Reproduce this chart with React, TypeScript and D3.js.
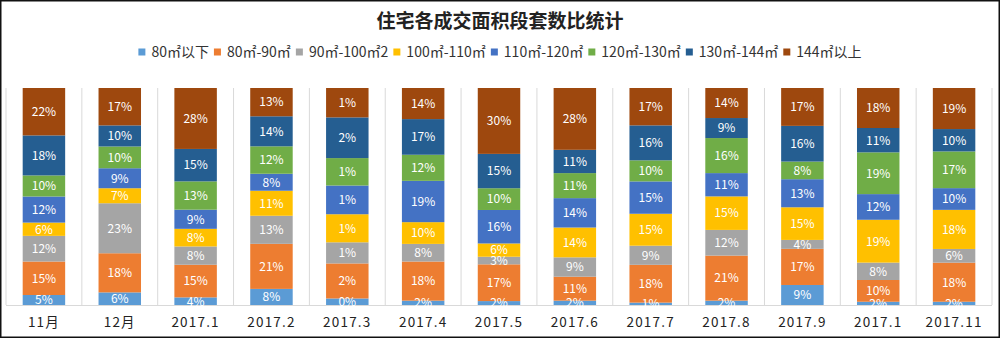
import React, { useEffect, useRef } from "react";
import * as d3 from "d3";

const categories = ["11月", "12月", "2017.1", "2017.2", "2017.3", "2017.4", "2017.5", "2017.6", "2017.7", "2017.8", "2017.9", "2017.1", "2017.11"];
const seriesNames = ["80㎡以下", "80㎡-90㎡", "90㎡-100㎡2", "100㎡-110㎡", "110㎡-120㎡", "120㎡-130㎡", "130㎡-144㎡", "144㎡以上"];
const seriesColors = ["#5B9BD5", "#ED7D31", "#A5A5A5", "#FFC000", "#4472C4", "#70AD47", "#255E91", "#9E480E"];

// segment shares (bottom to top), per series across categories
const s80 = [4.6, 5.8, 3.5, 7.4, 3, 2, 1.8, 2, 1.1, 2, 9.2, 1.5, 1.5];
const s80to90 = [15.4, 18, 15, 20.7, 16.1, 18, 16.9, 11, 17.4, 20.7, 16.6, 10, 18];
const s90to100 = [11.8, 23, 8.4, 12.9, 9.7, 8.1, 3.5, 8.9, 8.8, 11.8, 4.1, 8, 6.3];
const s100to110 = [6.1, 6.9, 8.1, 11.5, 12.9, 10, 6.1, 13.7, 14.7, 15.4, 15, 19.7, 18];
const s110to120 = [12, 9.2, 8.8, 7.8, 13.2, 19, 15.4, 13.5, 14.9, 10.7, 12.9, 11.8, 10];
const s120to130 = [9.7, 10, 13, 12.6, 12.6, 12, 10, 11.5, 9.7, 16.1, 8.1, 19.2, 16.9];
const s130to144 = [18.4, 9.7, 14.9, 13.8, 18.7, 16.4, 15.8, 10.7, 16.1, 9.2, 16.4, 11.2, 10.3];
const s144up = [21.8, 17.2, 28, 13, 13.5, 14.3, 30.3, 28.4, 17.2, 13.8, 17.4, 18.4, 18.9];

// data labels as printed on the chart
const l80 = [5, 6, 4, 8, 0, 2, 2, 2, 1, 2, 9, 2, 2];
const l80to90 = [15, 18, 15, 21, 2, 18, 17, 11, 18, 21, 17, 10, 18];
const l90to100 = [12, 23, 8, 13, 1, 8, 3, 9, 9, 12, 4, 8, 6];
const l100to110 = [6, 7, 8, 11, 1, 10, 6, 14, 15, 15, 15, 19, 18];
const l110to120 = [12, 9, 9, 8, 1, 19, 16, 14, 15, 11, 13, 12, 10];
const l120to130 = [10, 10, 13, 12, 1, 12, 10, 11, 10, 16, 8, 19, 17];
const l130to144 = [18, 10, 15, 14, 2, 17, 15, 11, 16, 9, 16, 11, 10];
const l144up = [22, 17, 28, 13, 1, 14, 30, 28, 17, 14, 17, 18, 19];

const seriesValues = [s80, s80to90, s90to100, s100to110, s110to120, s120to130, s130to144, s144up];
const seriesLabels = [l80, l80to90, l90to100, l100to110, l110to120, l120to130, l130to144, l144up];

const W = 1000, H = 338;
const margin = { left: 6, right: 8, top: 88, bottom: 33 };
const CJK = "'Noto Sans CJK SC', 'Noto Sans', sans-serif";

export default function App() {
  const ref = useRef<SVGSVGElement | null>(null);
  useEffect(() => {
    const svg = d3.select(ref.current);
    svg.selectAll("*").remove();

    svg.append("rect").attr("x", 0.75).attr("y", 0.75).attr("width", W - 1.5).attr("height", H - 1.5)
      .attr("fill", "#fff").attr("stroke", "#111").attr("stroke-width", 1.5);

    const idx = categories.map((_, i) => String(i));
    const x = d3.scaleBand().domain(idx).range([margin.left, W - margin.right]).paddingInner(0.44).paddingOuter(0.22);
    const y = d3.scaleLinear().domain([0, 1]).range([H - margin.bottom, margin.top]);

    const rows = categories.map((c, i) => {
      const o: any = { key: String(i) };
      seriesValues.forEach((s, k) => { o["s" + k] = s[i]; });
      return o;
    });
    const keys = seriesValues.map((_, k) => "s" + k);
    const stack = d3.stack<any>().keys(keys).offset(d3.stackOffsetExpand);
    const layers = stack(rows);

    // vertical gridlines at category boundaries
    const left = margin.left, right = W - margin.right;
    const bounds = d3.range(categories.length + 1).map(i => left + i * (right - left) / categories.length);
    svg.append("g").selectAll("line").data(bounds).join("line")
      .attr("x1", d => d).attr("x2", d => d).attr("y1", margin.top).attr("y2", H - margin.bottom)
      .attr("stroke", "#d9d9d9").attr("stroke-width", 1);
    svg.append("line").attr("x1", left).attr("x2", right).attr("y1", H - margin.bottom + 0.5).attr("y2", H - margin.bottom + 0.5)
      .attr("stroke", "#d9d9d9");

    const g = svg.append("g");
    layers.forEach((layer, k) => {
      g.append("g").selectAll("rect").data(layer).join("rect")
        .attr("x", d => x(d.data.key)!)
        .attr("width", x.bandwidth())
        .attr("y", d => y(d[1]))
        .attr("height", d => y(d[0]) - y(d[1]))
        .attr("fill", seriesColors[k]);
    });
    layers.forEach((layer, k) => {
      g.append("g").selectAll("text").data(layer).join("text")
        .attr("x", d => x(d.data.key)! + x.bandwidth() / 2)
        .attr("y", d => (y(d[0]) + y(d[1])) / 2)
        .attr("dy", "0.36em")
        .attr("text-anchor", "middle")
        .attr("fill", "#fff")
        .attr("font-family", CJK)
        .attr("font-size", 12)
        .text((d, i) => seriesLabels[k][i] + "%");
    });

    // x labels
    svg.append("g").selectAll("text").data(categories).join("text")
      .attr("x", (d, i) => x(String(i))! + x.bandwidth() / 2)
      .attr("y", H - margin.bottom + 17)
      .attr("dy", "0.36em")
      .attr("text-anchor", "middle")
      .attr("font-family", CJK)
      .attr("font-size", 13.5)
      .attr("letter-spacing", 1.2)
      .attr("fill", "#222")
      .text(d => d);

    // title
    svg.append("text").attr("x", W / 2).attr("y", 21).attr("dy", "0.36em").attr("text-anchor", "middle")
      .attr("font-family", CJK).attr("font-size", 19).attr("font-weight", "bold").attr("fill", "#222")
      .text("住宅各成交面积段套数比统计");

    // legend
    const lg = svg.append("g");
    const items = lg.selectAll("g").data(seriesNames).join("g");
    items.append("rect").attr("width", 7).attr("height", 7).attr("y", -3.5).attr("fill", (d, i) => seriesColors[i]);
    const texts = items.append("text").attr("x", 13).attr("dy", "0.36em")
      .attr("font-family", CJK).attr("font-size", 14).attr("fill", "#333").text(d => d);
    const widths: number[] = [];
    texts.each(function () { widths.push((this as SVGTextElement).getComputedTextLength()); });
    const gap = 5;
    let total = 0;
    const offs: number[] = [];
    widths.forEach((w) => { offs.push(total); total += 13 + w + gap; });
    total -= gap;
    const start = W / 2 - total / 2;
    items.attr("transform", (d, i) => `translate(${start + offs[i]},52)`);
  }, []);
  return (
    <svg ref={ref} width={W} height={H} style={{ position: "absolute", left: 0, top: 0, display: "block" }} />
  );
}
